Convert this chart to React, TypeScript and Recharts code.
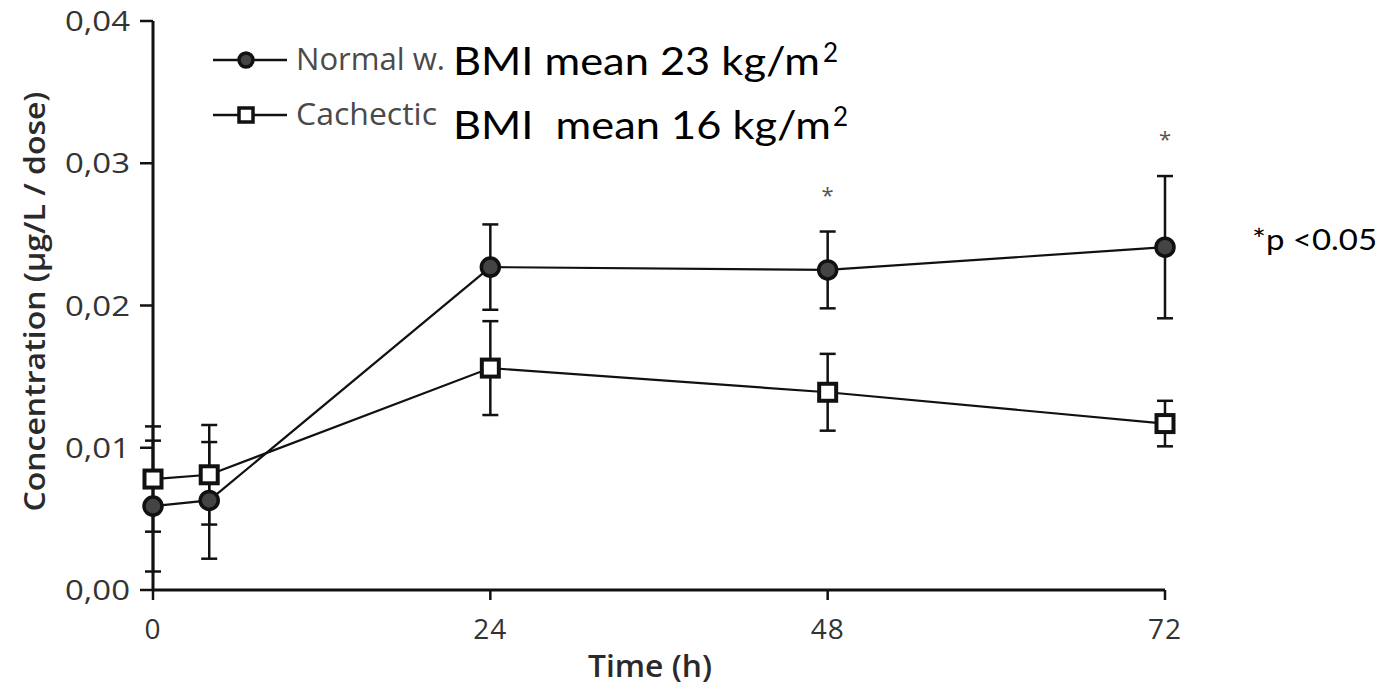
import {
  Customized,
  ErrorBar,
  Legend,
  Line,
  LineChart,
  ReferenceDot,
  XAxis,
  YAxis,
} from "recharts";

// values (hours after dose, µg/L per dose, mean ± error)
const hours = [0, 4, 24, 48, 72];
const normalMean = [0.0059, 0.0063, 0.0227, 0.0225, 0.0241];
const normalErr = [0.0046, 0.0041, 0.003, 0.0027, 0.005];
const cachecticMean = [0.0078, 0.0081, 0.0156, 0.0139, 0.0117];
const cachecticErr = [0.0037, 0.0035, 0.0033, 0.0027, 0.0016];

const xTicks = [0, 24, 48, 72];
const yTicks = [0, 0.01, 0.02, 0.03, 0.04];
const significantHours = [48, 72];

const seriesNames = ["Normal w.", "Cachectic"];
const bmiNotes = ["BMI mean 23 kg/m", "BMI  mean 16 kg/m"];
const pNote = "*p <0.05";

const rows = hours.map((hour, i) => ({
  hour,
  normal: normalMean[i],
  normalErr: normalErr[i],
  cachectic: cachecticMean[i],
  cachecticErr: cachecticErr[i],
}));

const CHART_W = 1387;
const CHART_H = 687;
const SANS = '"Open Sans", "Noto Sans", sans-serif';
const CALIBRI_LIKE = 'Lato, "Open Sans", sans-serif';
const INK = "#111";

function commaDecimal(v: number) {
  return v.toFixed(2).replace(".", ",");
}

function YTick({ x, y, payload }: any) {
  return (
    <text
      x={x}
      y={y}
      dy="0.36em"
      textAnchor="end"
      fontFamily={SANS}
      fontSize={28}
      fill="#333"
      textLength={65}
      lengthAdjust="spacingAndGlyphs"
    >
      {commaDecimal(payload.value)}
    </text>
  );
}

function XTick({ x, y, payload }: any) {
  return (
    <text x={x} y={y + 21} textAnchor="middle" fontFamily={SANS} fontSize={28} fill="#333" letterSpacing={1}>
      {payload.value}
    </text>
  );
}

function YLabel({ viewBox }: any) {
  const cx = viewBox.x + 45;
  const cy = viewBox.y + viewBox.height / 2 - 4;
  return (
    <text
      x={cx}
      y={cy}
      transform={`rotate(-90 ${cx} ${cy})`}
      textAnchor="middle"
      fontFamily={SANS}
      fontWeight={600}
      fontSize={29}
      fill="#2a2a2a"
      textLength={420}
      lengthAdjust="spacingAndGlyphs"
    >
      Concentration (µg/L / dose)
    </text>
  );
}

function XLabel({ viewBox }: any) {
  const cx = viewBox.x + viewBox.width / 2 - 9;
  return (
    <text
      x={cx}
      y={viewBox.y + 87}
      textAnchor="middle"
      fontFamily={SANS}
      fontWeight={600}
      fontSize={31}
      fill="#2a2a2a"
      textLength={124}
      lengthAdjust="spacingAndGlyphs"
    >
      Time (h)
    </text>
  );
}

function CircleDot({ cx, cy, index }: any) {
  if (cx == null || cy == null) return null;
  return <circle key={`c${index}`} cx={cx} cy={cy} r={9} fill="#444" stroke={INK} strokeWidth={3.5} />;
}

function SquareDot({ cx, cy, index }: any) {
  if (cx == null || cy == null) return null;
  return (
    <rect
      key={`s${index}`}
      x={cx - 8.5}
      y={cy - 8.5}
      width={17}
      height={17}
      fill="#fff"
      stroke={INK}
      strokeWidth={4}
    />
  );
}

function Asterisk({ cx, cy }: any) {
  return (
    <text x={cx} y={cy - 29} textAnchor="middle" fontFamily={SANS} fontSize={22} fill="#555">
      *
    </text>
  );
}

// legend row geometry
const LEGEND_ROW_Y = [60, 115];
const BMI_BASELINE = [75, 139];
const BMI_WIDTH = [367, 378];
const SUP_X = [823, 833];
const SUP_BASELINE = [62, 126];

function LegendBox({ payload }: any) {
  const items = (payload ?? []) as any[];
  return (
    <svg width={900} height={160} style={{ display: "block" }}>
      {items.map((item) => {
        const i = seriesNames.indexOf(item.value);
        if (i < 0) return null;
        const y = LEGEND_ROW_Y[i];
        return (
          <g key={item.value}>
            <line x1={213} x2={287} y1={y} y2={y} stroke={INK} strokeWidth={2.5} />
            {i === 0 ? (
              <circle cx={246} cy={y} r={7} fill="#444" stroke={INK} strokeWidth={3.5} />
            ) : (
              <rect x={239} y={y - 7} width={14} height={14} fill="#fff" stroke={INK} strokeWidth={3.5} />
            )}
            <text
              x={296}
              y={i === 0 ? 70 : 125}
              fontFamily={SANS}
              fontSize={31}
              fill="#4a4a4a"
              textLength={i === 0 ? 149 : 141}
              lengthAdjust="spacingAndGlyphs"
            >
              {item.value}
            </text>
            <text
              x={453}
              y={BMI_BASELINE[i]}
              fontFamily={CALIBRI_LIKE}
              fontSize={38}
              fill="#000"
              style={{ whiteSpace: "pre" }}
              textLength={BMI_WIDTH[i]}
              lengthAdjust="spacingAndGlyphs"
            >
              {bmiNotes[i]}
            </text>
            <text x={SUP_X[i]} y={SUP_BASELINE[i]} fontFamily={CALIBRI_LIKE} fontSize={26} fill="#000">
              2
            </text>
          </g>
        );
      })}
    </svg>
  );
}

function PNote() {
  return (
    <text
      x={1252}
      y={250}
      fontFamily={CALIBRI_LIKE}
      fontSize={28}
      fill="#000"
      textLength={125}
      lengthAdjust="spacingAndGlyphs"
    >
      {pNote}
    </text>
  );
}

export default function App() {
  return (
    <div style={{ position: "absolute", left: 0, top: 0, background: "#fff" }}>
      <LineChart width={CHART_W} height={CHART_H} data={rows} margin={{ top: 21, right: 222, bottom: 0, left: 0 }}>
        <XAxis
          dataKey="hour"
          type="number"
          domain={[0, 72]}
          ticks={xTicks}
          height={97}
          tickSize={10}
          tickMargin={18}
          axisLine={{ stroke: INK, strokeWidth: 3 }}
          tickLine={{ stroke: INK, strokeWidth: 2.5 }}
          tick={XTick}
          label={XLabel}
        />
        <YAxis
          type="number"
          domain={[0, 0.04]}
          ticks={yTicks}
          width={153}
          tickSize={13}
          tickMargin={10}
          axisLine={{ stroke: INK, strokeWidth: 3 }}
          tickLine={{ stroke: INK, strokeWidth: 2.5 }}
          tick={YTick}
          label={YLabel}
        />
        <Legend verticalAlign="middle" align="center" wrapperStyle={{ left: 0, top: 0, width: 900, height: 160 }} content={LegendBox} />
        <Line
          dataKey="cachectic"
          name={seriesNames[1]}
          stroke={INK}
          strokeWidth={2.2}
          dot={SquareDot}
          activeDot={false}
          isAnimationActive={false}
        >
          <ErrorBar dataKey="cachecticErr" width={8} stroke={INK} strokeWidth={2.5} isAnimationActive={false} />
        </Line>
        <Line
          dataKey="normal"
          name={seriesNames[0]}
          stroke={INK}
          strokeWidth={2.2}
          dot={CircleDot}
          activeDot={false}
          isAnimationActive={false}
        >
          <ErrorBar dataKey="normalErr" width={8} stroke={INK} strokeWidth={2.5} isAnimationActive={false} />
        </Line>
        {significantHours.map((h) => {
          const i = hours.indexOf(h);
          return (
            <ReferenceDot
              key={h}
              x={h}
              y={normalMean[i] + normalErr[i]}
              r={0}
              shape={Asterisk}
              ifOverflow="visible"
            />
          );
        })}
        <Customized component={PNote} />
      </LineChart>
    </div>
  );
}
